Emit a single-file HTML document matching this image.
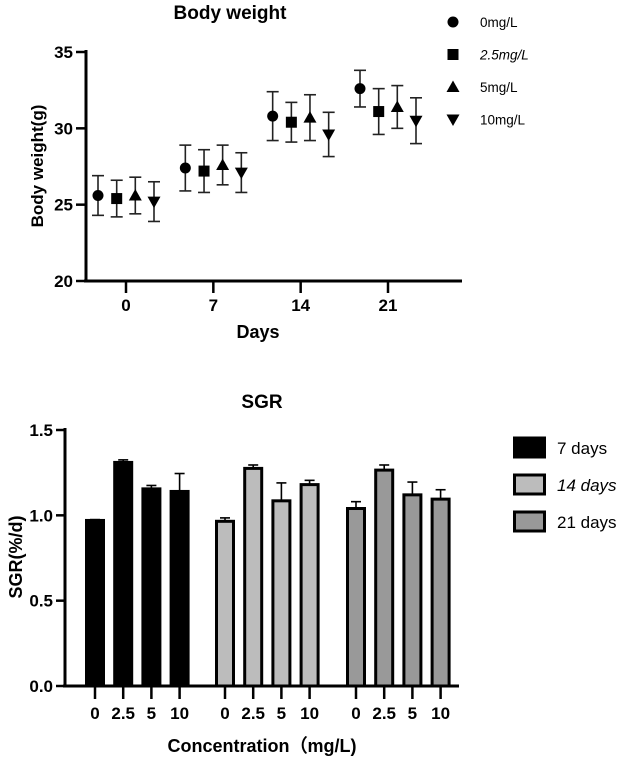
<!DOCTYPE html>
<html><head><meta charset="utf-8"><style>
html,body{margin:0;padding:0;background:#fff;width:633px;height:759px;overflow:hidden}
svg{display:block;font-family:"Liberation Sans",Arial,sans-serif}
</style></head><body>
<svg id="chart" width="633" height="759" viewBox="0 0 633 759">
  <text x="230" y="19" text-anchor="middle" font-size="19" font-weight="bold">Body weight</text>
  <text x="262" y="408" text-anchor="middle" font-size="19" font-weight="bold">SGR</text>
  <g id="topChart"></g>
  <g id="bottomChart"></g>
</svg>
<script>
// ---- Body weight data ----
const days = [0, 7, 14, 21];
const groups = ["0mg/L", "2.5mg/L", "5mg/L", "10mg/L"];
const w0 = [25.6, 27.4, 30.8, 32.6];
const w25 = [25.4, 27.2, 30.4, 31.1];
const w5 = [25.6, 27.6, 30.7, 31.4];
const w10 = [25.2, 27.1, 29.6, 30.5];
const sd0 = [1.3, 1.5, 1.6, 1.2];
const sd25 = [1.2, 1.4, 1.3, 1.5];
const sd5 = [1.2, 1.3, 1.5, 1.4];
const sd10 = [1.3, 1.3, 1.45, 1.5];
const yTicksTop = [20, 25, 30, 35];

// ---- SGR data ----
const periods = ["7 days", "14 days", "21 days"];
const concs = ["0", "2.5", "5", "10"];
const sgr7 = [0.97, 1.31, 1.155, 1.14];
const sgr14 = [0.965, 1.275, 1.085, 1.18];
const sgr21 = [1.04, 1.265, 1.12, 1.095];
const err7 = [0.005, 0.015, 0.02, 0.105];
const err14 = [0.02, 0.02, 0.105, 0.025];
const err21 = [0.04, 0.03, 0.075, 0.055];
const yTicksBot = [0.0, 0.5, 1.0, 1.5];

const NS = "http://www.w3.org/2000/svg";
function mk(parent, tag, attrs, text) {
  const e = document.createElementNS(NS, tag);
  for (const k in attrs) e.setAttribute(k, attrs[k]);
  if (text !== undefined) e.textContent = text;
  parent.appendChild(e);
  return e;
}

// ===== Top chart =====
const gTop = document.getElementById("topChart");
const yT = v => 281 - (v - 20) * (229 / 15);
const xT = d => 126 + d * (262 / 21);
mk(gTop, "line", {x1: 86, y1: 50, x2: 86, y2: 282, stroke: "#000", "stroke-width": 3});
mk(gTop, "line", {x1: 84, y1: 281, x2: 462, y2: 281, stroke: "#000", "stroke-width": 3});
yTicksTop.forEach(t => {
  mk(gTop, "line", {x1: 76, y1: yT(t), x2: 86, y2: yT(t), stroke: "#000", "stroke-width": 2.5});
  const l = mk(gTop, "text", {x: 73, y: yT(t) + 6, "text-anchor": "end", "font-size": 17, "font-weight": "bold"}, t);
  
  
});
days.forEach(d => {
  mk(gTop, "line", {x1: xT(d), y1: 281, x2: xT(d), y2: 293, stroke: "#000", "stroke-width": 2.5});
  const l = mk(gTop, "text", {x: xT(d), y: 311, "text-anchor": "middle", "font-size": 17, "font-weight": "bold"}, d);
  
  
});
const xtT = mk(gTop, "text", {x: 258, y: 338, "text-anchor": "middle", "font-size": 18, "font-weight": "bold"}, "Days");


const ytT = mk(gTop, "text", {x: 0, y: 0, transform: "translate(43,166) rotate(-90)", "text-anchor": "middle", "font-size": 17, "font-weight": "bold"}, "Body weight(g)");



function marker(g, kind, cx, cy) {
  if (kind === 0) return mk(g, "circle", {cx: cx, cy: cy, r: 5.5, fill: "#000"});
  if (kind === 1) return mk(g, "rect", {x: cx - 5.5, y: cy - 5.5, width: 11, height: 11, fill: "#000"});
  if (kind === 2) return mk(g, "polygon", {points: `${cx},${cy-6.5} ${cx+6.5},${cy+5} ${cx-6.5},${cy+5}`, fill: "#000"});
  return mk(g, "polygon", {points: `${cx},${cy+6.5} ${cx+6.5},${cy-5} ${cx-6.5},${cy-5}`, fill: "#000"});
}
const wSeries = [w0, w25, w5, w10];
const sdSeries = [sd0, sd25, sd5, sd10];
const offs = [-28, -9.3, 9.3, 28];
wSeries.forEach((vals, si) => {
  const g = mk(gTop, "g", {});
  
  
  vals.forEach((v, i) => {
    const cx = xT(days[i]) + offs[si];
    const hi = yT(v + sdSeries[si][i]), lo = yT(v - sdSeries[si][i]);
    mk(g, "line", {x1: cx, y1: hi, x2: cx, y2: lo, stroke: "#222", "stroke-width": 1.6});
    mk(g, "line", {x1: cx - 6, y1: hi, x2: cx + 6, y2: hi, stroke: "#222", "stroke-width": 1.6});
    mk(g, "line", {x1: cx - 6, y1: lo, x2: cx + 6, y2: lo, stroke: "#222", "stroke-width": 1.6});
    const m = marker(g, si, cx, yT(v));
    
    
  });
  const ly = 22 + si * 32.5;
  const lm = marker(gTop, si, 453, ly);
  
  
  const lt = mk(gTop, "text", {x: 480, y: ly + 5, "font-size": 13.5, "font-style": si === 1 ? "italic" : "normal"}, groups[si]);
  
  
});

// ===== Bottom chart =====
const gBot = document.getElementById("bottomChart");
const yB = v => 686 - v * (256 / 1.5);
const groupStart = [95, 225, 356];
const barStep = 28.2;
const xB = (gi, ci) => groupStart[gi] + ci * barStep;
const fills = ["#000", "#bcbcbc", "#999"];
const sgrSeries = [sgr7, sgr14, sgr21];
const errSeries = [err7, err14, err21];
mk(gBot, "line", {x1: 65, y1: 428, x2: 65, y2: 687, stroke: "#000", "stroke-width": 3});
mk(gBot, "line", {x1: 63, y1: 686, x2: 459, y2: 686, stroke: "#000", "stroke-width": 3});
yTicksBot.forEach(t => {
  mk(gBot, "line", {x1: 56, y1: yB(t), x2: 65, y2: yB(t), stroke: "#000", "stroke-width": 2.5});
  const l = mk(gBot, "text", {x: 53, y: yB(t) + 6, "text-anchor": "end", "font-size": 17, "font-weight": "bold"}, t.toFixed(1));
  
  
});
sgrSeries.forEach((vals, gi) => {
  const g = mk(gBot, "g", {});
  
  
  vals.forEach((v, ci) => {
    const cx = xB(gi, ci);
    const et = yB(v + errSeries[gi][ci]);
    mk(g, "line", {x1: cx, y1: et, x2: cx, y2: yB(v), stroke: "#000", "stroke-width": 1.6});
    mk(g, "line", {x1: cx - 5, y1: et, x2: cx + 5, y2: et, stroke: "#000", "stroke-width": 1.6});
    const b = mk(g, "rect", {x: cx - 8.5, y: yB(v), width: 17, height: 686 - yB(v), fill: fills[gi], stroke: "#000", "stroke-width": 3});
    
    
    mk(gBot, "line", {x1: cx, y1: 686, x2: cx, y2: 699, stroke: "#000", "stroke-width": 2.5});
    const l = mk(gBot, "text", {x: cx, y: 719, "text-anchor": "middle", "font-size": 17, "font-weight": "bold"}, concs[ci]);
    
    
  });
  const ly = 438 + gi * 37;
  const lb = mk(gBot, "rect", {x: 514.5, y: ly, width: 30, height: 19, fill: fills[gi], stroke: "#000", "stroke-width": 3});
  
  
  const lt = mk(gBot, "text", {x: 557, y: ly + 16, "font-size": 17, "font-style": gi === 1 ? "italic" : "normal"}, periods[gi]);
  
  
});
const xtB = mk(gBot, "text", {x: 262, y: 752, "text-anchor": "middle", "font-size": 18, "font-weight": "bold"}, "Concentration（mg/L)");


const ytB = mk(gBot, "text", {x: 0, y: 0, transform: "translate(22,557) rotate(-90)", "text-anchor": "middle", "font-size": 18, "font-weight": "bold"}, "SGR(%/d)");


</script>
</body></html>
